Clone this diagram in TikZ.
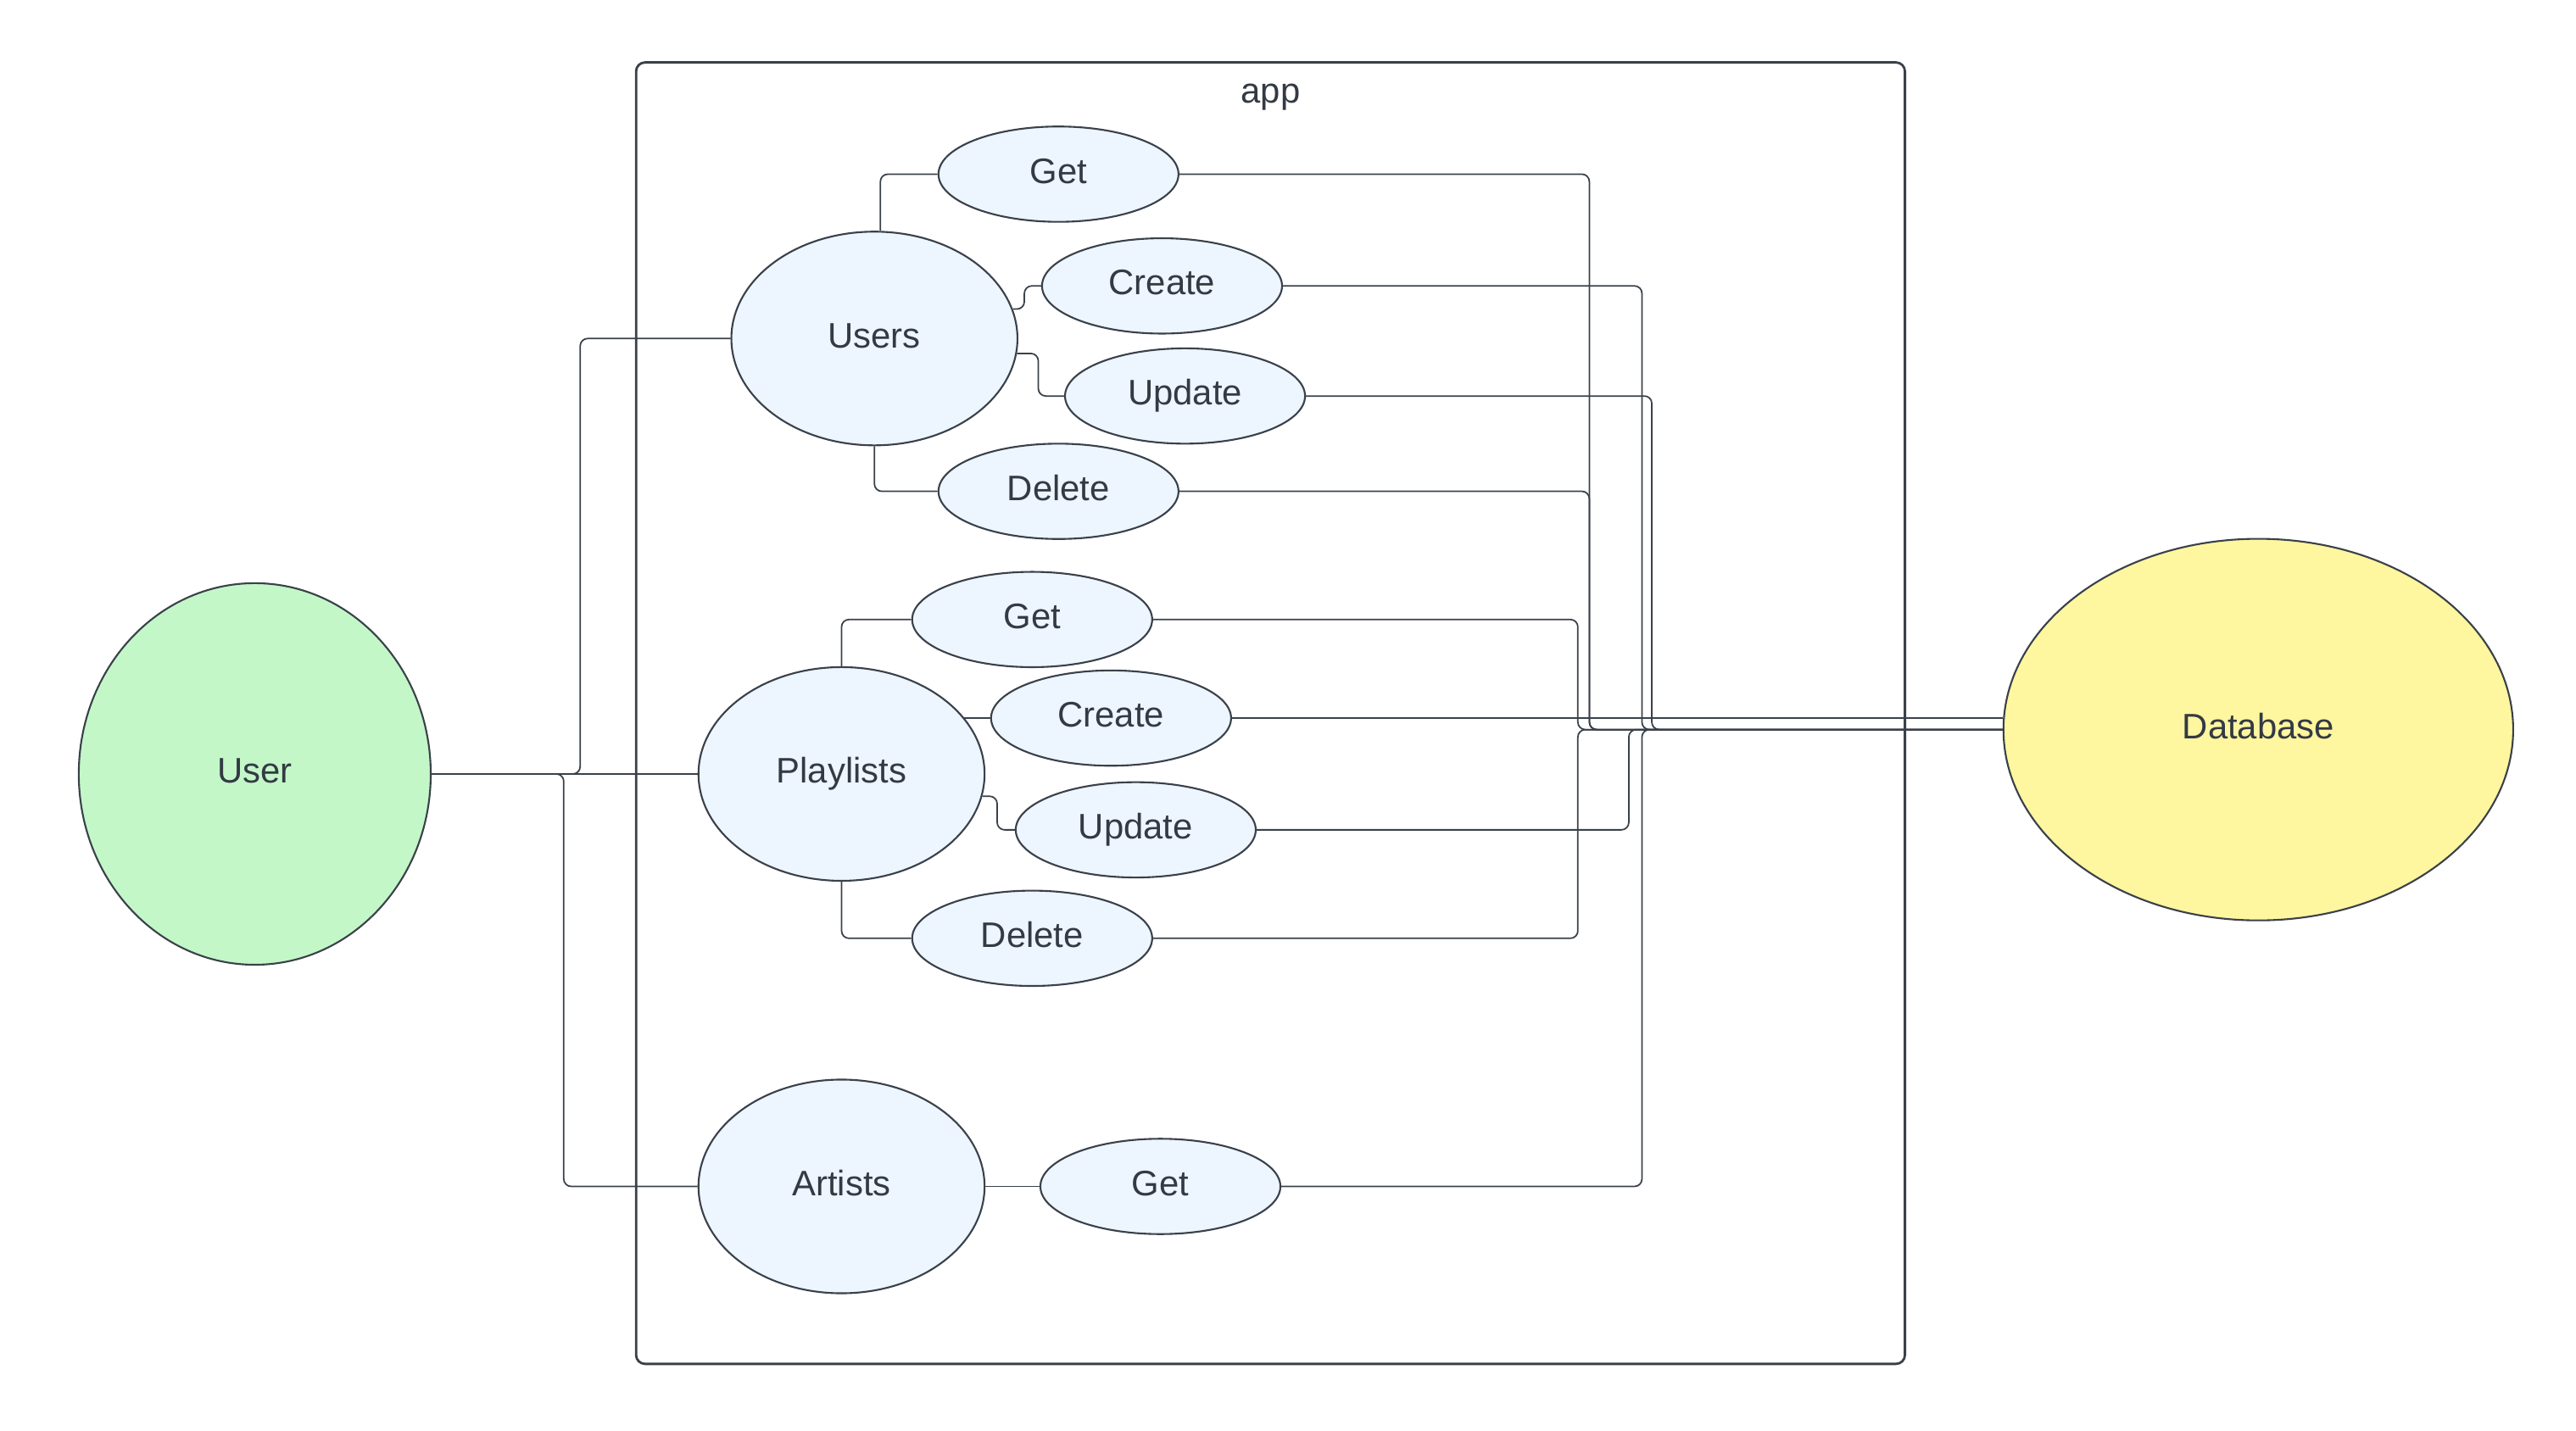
\documentclass[tikz,border=0pt]{standalone}
\usepackage{fontspec}
\setmainfont{Liberation Sans}
\usetikzlibrary{shapes.geometric}

\definecolor{lineclr}{HTML}{3A414A}
\definecolor{txtclr}{HTML}{333A44}
\definecolor{resfill}{HTML}{EDF5FF}
\definecolor{userfill}{HTML}{C3F7C8}
\definecolor{dbfill}{HTML}{FFF6A0}

\tikzset{
  label/.style={text=txtclr, font=\fontsize{11.9}{14}\selectfont, text height=8.5pt, text depth=2.4pt},
  ent/.style={label, draw=lineclr, line width=0.6pt, ellipse, inner sep=0pt},
  res/.style={ent, fill=resfill, minimum width=3.373cm, minimum height=2.52cm},
  op/.style={ent, fill=resfill, minimum width=2.83cm, minimum height=1.124cm},
  wire/.style={draw=lineclr, line width=0.5pt, rounded corners=2.5pt},
  frame/.style={draw=lineclr, line width=0.8pt, rounded corners=3pt},
}

\begin{document}
\begin{tikzpicture}[x=0.019384cm, y=-0.019384cm]
\useasboundingbox (0,0) rectangle (1567.3,870.8);

% app container
\draw[frame] (387,38) rectangle (1159,830);
\node[label] (applabel) at (773,57) {app};

% actors
\node[ent, fill=userfill, minimum width=4.15cm, minimum height=4.5cm] (user) at (155,471) {User};
\node[ent, fill=dbfill, minimum width=6.01cm, minimum height=4.5cm] (db) at (1374,444) {Database};

% resources
\node[res] (users) at (532,206) {Users};
\node[res] (playlists) at (512,471) {Playlists};
\node[res] (artists) at (512,722) {Artists};

% operations
\node[op] (uget) at (644,106) {Get};
\node[op] (ucreate) at (707,174) {Create};
\node[op] (uupdate) at (721,241) {Update};
\node[op] (udelete) at (644,299) {Delete};

\node[op] (pget) at (628,377) {Get};
\node[op] (pcreate) at (676,437) {Create};
\node[op] (pupdate) at (691,505) {Update};
\node[op] (pdelete) at (628,571) {Delete};

\node[op] (aget) at (706,722) {Get};

% user to resources
\draw[wire] (user.east) -- (353,471) |- (users.west);
\draw[wire] (user.east) -- (playlists.west);
\draw[wire] (user.east) -- (343,471) |- (artists.west);

% resources to operations
\draw[wire] ([xshift=2pt]users.north) |- (uget.west);
\draw[wire] (users.12) -- ++(7,0) |- (ucreate.west);
\draw[wire] (users.-6) -- ++(13,0) |- (uupdate.west);
\draw[wire] (users.south) |- (udelete.west);

\draw[wire] (playlists.north) |- (pget.west);
\draw[wire] (pcreate.west) -- (pcreate.west -| playlists.25);
\draw[wire] (playlists.-9) -- ++(9,0) |- (pupdate.west);
\draw[wire] (playlists.south) |- (pdelete.west);

\draw[wire] (artists.east) -- (aget.west);

% operations to database
\draw[wire] (uget.east) -| (967,444) -- (db.west);
\draw[wire] (udelete.east) -| (967,444) -- (db.west);
\draw[wire] (ucreate.east) -| (999,444) -- (db.west);
\draw[wire] (uupdate.east) -| (1005,444) -- (db.west);
\draw[wire] (pget.east) -| (960,444) -- (db.west);
\draw[wire] (pcreate.east) -- (pcreate.east -| db.west);
\draw[wire] (pupdate.east) -| (991,444) -- (db.west);
\draw[wire] (pdelete.east) -| (960,444) -- (db.west);
\draw[wire] (aget.east) -| (999,444) -- (db.west);

\end{tikzpicture}
\end{document}
